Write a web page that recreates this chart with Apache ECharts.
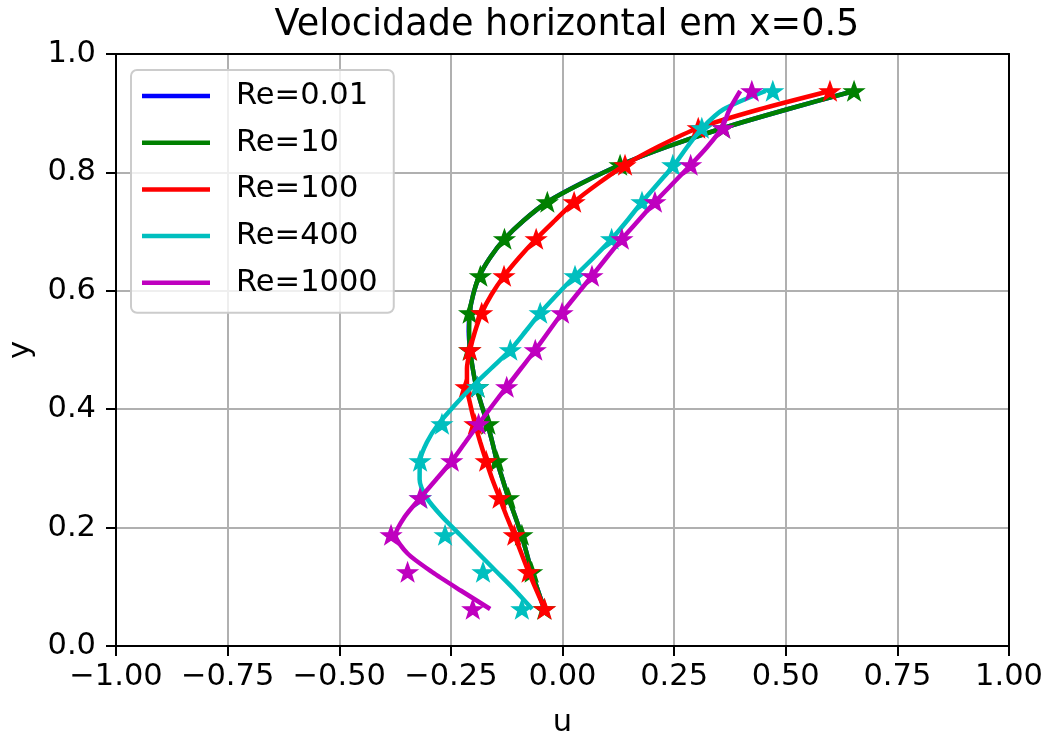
<!DOCTYPE html>
<html>
<head>
<meta charset="utf-8">
<title>Velocidade horizontal em x=0.5</title>
<script src="https://cdn.jsdelivr.net/npm/echarts@6/dist/echarts.min.js"></script>
<style>
  html, body { margin: 0; padding: 0; background: #ffffff; }
  #chart { width: 1051px; height: 735px; }
</style>
</head>
<body>
<div id="chart"></div>
<script>
// Perfil de u ao longo da linha vertical x = 0.5 da cavidade

// Alturas dos pontos de referência (estrelas)
const yRef = [0.0625, 0.125, 0.1875, 0.25, 0.3125, 0.375, 0.4375, 0.5,
              0.5625, 0.625, 0.6875, 0.75, 0.8125, 0.875, 0.9375];

// Valores de referência de u em cada altura
const refRe10   = [-0.041, -0.069, -0.091, -0.121, -0.147, -0.166, -0.190, -0.208,
                   -0.208, -0.184, -0.130, -0.034, 0.129, 0.360, 0.653];
const refRe100  = [-0.040, -0.076, -0.108, -0.141, -0.171, -0.196, -0.216, -0.207,
                   -0.181, -0.131, -0.059, 0.026, 0.140, 0.304, 0.599];
const refRe400  = [-0.091, -0.178, -0.263, -0.318, -0.319, -0.270, -0.190, -0.117,
                   -0.050, 0.028, 0.110, 0.178, 0.247, 0.312, 0.471];
const refRe1000 = [-0.201, -0.347, -0.384, -0.319, -0.248, -0.188, -0.125, -0.061,
                   -0.001, 0.066, 0.133, 0.207, 0.287, 0.360, 0.424];

// Alturas da solução numérica (passo 1/32)
const ySol = [0.0625, 0.09375, 0.125, 0.15625, 0.1875, 0.21875, 0.25, 0.28125,
              0.3125, 0.34375, 0.375, 0.40625, 0.4375, 0.46875, 0.5, 0.53125,
              0.5625, 0.59375, 0.625, 0.65625, 0.6875, 0.71875, 0.75, 0.78125,
              0.8125, 0.84375, 0.875, 0.90625, 0.9375];

// Solução numérica de u para cada Reynolds
const solRe001 = [-0.041, -0.055, -0.069, -0.080, -0.092, -0.106, -0.121, -0.134,
                  -0.147, -0.157, -0.168, -0.181, -0.193, -0.201, -0.207, -0.210,
                  -0.208, -0.200, -0.186, -0.162, -0.130, -0.087, -0.034, 0.041,
                  0.129, 0.236, 0.360, 0.502, 0.653];
const solRe10   = [-0.041, -0.055, -0.069, -0.080, -0.092, -0.106, -0.121, -0.134,
                   -0.147, -0.157, -0.168, -0.181, -0.193, -0.201, -0.207, -0.209,
                   -0.208, -0.200, -0.186, -0.162, -0.130, -0.087, -0.034, 0.042,
                   0.129, 0.236, 0.360, 0.502, 0.653];
const solRe100  = [-0.040, -0.058, -0.076, -0.092, -0.108, -0.125, -0.141, -0.157,
                   -0.171, -0.184, -0.196, -0.206, -0.214, -0.214, -0.207, -0.196,
                   -0.181, -0.159, -0.131, -0.097, -0.059, -0.017, 0.026, 0.080,
                   0.140, 0.215, 0.304, 0.440, 0.599];
const solRe400  = [-0.068, -0.106, -0.147, -0.188, -0.229, -0.270, -0.304, -0.320,
                   -0.319, -0.304, -0.278, -0.242, -0.203, -0.160, -0.117, -0.083,
                   -0.050, -0.012, 0.028, 0.070, 0.110, 0.145, 0.178, 0.214,
                   0.250, 0.280, 0.313, 0.360, 0.455];
const solRe1000 = [-0.162, -0.228, -0.292, -0.347, -0.374, -0.353, -0.319, -0.283,
                   -0.248, -0.218, -0.188, -0.157, -0.125, -0.093, -0.061, -0.031,
                   -0.001, 0.032, 0.066, 0.099, 0.133, 0.170, 0.207, 0.247,
                   0.287, 0.325, 0.357, 0.374, 0.398];

// Rótulos e cores
const reLabels = ['Re=0.01', 'Re=10', 'Re=100', 'Re=400', 'Re=1000'];
const reColors = ['#0000ff', '#008000', '#ff0000', '#00bfbf', '#bf00bf'];

const xTicks = [-1, -0.75, -0.5, -0.25, 0, 0.25, 0.5, 0.75, 1];
const yTicks = [0, 0.2, 0.4, 0.6, 0.8, 1.0];

const FONT = 'DejaVu Sans';
const STAR = 'path://M0,-10 L2.35,-3.24 L9.51,-3.09 L3.8,1.24 L5.88,8.09 L0,4 L-5.88,8.09 L-3.8,1.24 L-9.51,-3.09 L-2.35,-3.24 Z';

function pairs(us, ys) { return us.map((u, i) => [u, ys[i]]); }
function fmtMinus(v, d) { return (v < 0 ? '\u2212' : '') + Math.abs(v).toFixed(d); }

const solutions = [solRe001, solRe10, solRe100, solRe400, solRe1000];
const references = [null, refRe10, refRe100, refRe400, refRe1000];

const series = [];
let z = 2;
solutions.forEach((sol, k) => {
  series.push({
    name: reLabels[k],
    type: 'line',
    data: pairs(sol, ySol),
    smooth: 0.25,
    showSymbol: false,
    symbol: 'none',
    lineStyle: { color: reColors[k], width: 4.5 },
    itemStyle: { color: reColors[k] },
    z: z++,
    silent: true
  });
  if (references[k]) {
    series.push({
      name: reLabels[k] + ' (referência)',
      type: 'scatter',
      data: pairs(references[k], yRef),
      symbol: STAR,
      symbolSize: [19, 18],
      itemStyle: { color: reColors[k], opacity: 1, borderColor: reColors[k], borderWidth: 1.5 },
      z: z++,
      silent: true
    });
  }
});

const chart = echarts.init(document.getElementById('chart'), null, { renderer: 'canvas' });

chart.setOption({
  animation: false,
  backgroundColor: '#ffffff',
  title: {
    text: 'Velocidade horizontal em x=0.5',
    left: 562,
    textAlign: 'center',
    top: 2,
    textStyle: { fontFamily: FONT, fontSize: 36.6, fontWeight: 'normal', color: '#000' }
  },
  legend: {
    data: reLabels,
    orient: 'vertical',
    left: 131,
    top: 70,
    icon: 'rect',
    itemWidth: 68,
    itemHeight: 4.5,
    itemGap: 14.7,
    padding: [10, 16, 14, 11],
    backgroundColor: 'rgba(255,255,255,0.8)',
    borderColor: '#cccccc',
    borderWidth: 2,
    borderRadius: 6,
    selectedMode: false,
    textStyle: { fontFamily: FONT, fontSize: 30.5, color: '#000', lineHeight: 32, padding: [0, 0, 0, 21] }
  },
  grid: { left: 116, right: 42, top: 54, bottom: 89, containLabel: false, outerBoundsMode: 'none' },
  xAxis: [{
    type: 'value',
    min: xTicks[0],
    max: xTicks[xTicks.length - 1],
    interval: 0.25,
    name: 'u',
    nameLocation: 'middle',
    nameGap: 62,
    nameTextStyle: { fontFamily: FONT, fontSize: 30.5, color: '#000' },
    axisLine: { show: true, onZero: false, lineStyle: { color: '#000', width: 2 } },
    axisTick: { show: true, inside: false, length: 10, lineStyle: { color: '#000', width: 2 } },
    axisLabel: { margin: 16, fontFamily: FONT, fontSize: 30.5, color: '#000',
                 formatter: v => fmtMinus(v, 2) },
    splitLine: { show: true, lineStyle: { color: '#b0b0b0', width: 2 } }
  }, {
    type: 'value', position: 'top', min: -1, max: 1,
    axisLine: { show: true, onZero: false, lineStyle: { color: '#000', width: 2 } },
    axisTick: { show: false }, axisLabel: { show: false }, splitLine: { show: false }
  }],
  yAxis: [{
    type: 'value',
    min: yTicks[0],
    max: yTicks[yTicks.length - 1],
    interval: 0.2,
    name: 'y',
    nameLocation: 'middle',
    nameGap: 77,
    nameRotate: 90,
    nameTextStyle: { fontFamily: FONT, fontSize: 30.5, color: '#000' },
    axisLine: { show: true, onZero: false, lineStyle: { color: '#000', width: 2 } },
    axisTick: { show: true, inside: false, length: 10, lineStyle: { color: '#000', width: 2 } },
    axisLabel: { margin: 20, fontFamily: FONT, fontSize: 30.5, color: '#000',
                 formatter: v => fmtMinus(v, 1) },
    splitLine: { show: true, lineStyle: { color: '#b0b0b0', width: 2 } }
  }, {
    type: 'value', position: 'right', min: 0, max: 1,
    axisLine: { show: true, onZero: false, lineStyle: { color: '#000', width: 2 } },
    axisTick: { show: false }, axisLabel: { show: false }, splitLine: { show: false }
  }],
  series: series
});
</script>
</body>
</html>
